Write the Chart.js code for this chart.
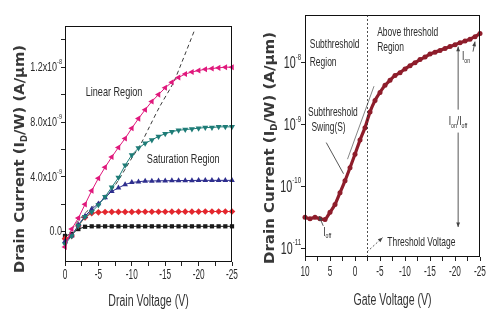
<!DOCTYPE html>
<html>
<head>
<meta charset="utf-8">
<script src="https://cdn.jsdelivr.net/npm/chart.js@4.4.1/dist/chart.umd.min.js"></script>
<style>
    html, body { margin: 0; padding: 0; background: #fff; }
    #wrap { position: relative; width: 492px; height: 321px; }
    #c1 { position: absolute; left: 0; top: 0; }
    #c2 { position: absolute; left: 250px; top: 0; }
</style>
</head>
<body>
<div id="wrap">
    <canvas id="c1" width="250" height="321"></canvas>
    <canvas id="c2" width="242" height="321"></canvas>
</div>
<script>
// ─── Left panel: output curves ───
const drainV = [0, -1, -2, -3, -4, -5, -6, -7, -8, -9, -10, -11, -12, -13, -14, -15, -16, -17, -18, -19, -20, -21, -22, -23, -24, -25];
const idPink  = [-1.1e-9, 0.2e-9, 1.0e-9, 2.0e-9, 3.0e-9, 3.9e-9, 4.7e-9, 5.45e-9, 6.15e-9, 6.8e-9, 7.55e-9, 8.25e-9, 8.9e-9, 9.5e-9, 10.0e-9, 10.5e-9, 10.9e-9, 11.25e-9, 11.5e-9, 11.65e-9, 11.75e-9, 11.85e-9, 11.9e-9, 11.95e-9, 12.0e-9, 12.0e-9];
const idTeal  = [-0.9e-9, -0.3e-9, 0.45e-9, 1.1e-9, 1.45e-9, 1.95e-9, 2.55e-9, 3.25e-9, 3.95e-9, 4.85e-9, 5.6e-9, 6.1e-9, 6.45e-9, 6.7e-9, 6.95e-9, 7.15e-9, 7.3e-9, 7.4e-9, 7.45e-9, 7.5e-9, 7.55e-9, 7.6e-9, 7.6e-9, 7.65e-9, 7.65e-9, 7.65e-9];
const idNavy  = [-0.7e-9, -0.3e-9, 0.5e-9, 1.15e-9, 1.65e-9, 2.05e-9, 2.5e-9, 2.95e-9, 3.2e-9, 3.45e-9, 3.6e-9, 3.65e-9, 3.7e-9, 3.7e-9, 3.72e-9, 3.72e-9, 3.73e-9, 3.73e-9, 3.74e-9, 3.74e-9, 3.75e-9, 3.75e-9, 3.75e-9, 3.75e-9, 3.75e-9, 3.75e-9];
const idRed   = [-0.5e-9, -0.3e-9, 0.45e-9, 1.05e-9, 1.35e-9, 1.42e-9, 1.44e-9, 1.45e-9, 1.45e-9, 1.45e-9, 1.45e-9, 1.46e-9, 1.46e-9, 1.46e-9, 1.46e-9, 1.46e-9, 1.47e-9, 1.47e-9, 1.47e-9, 1.47e-9, 1.47e-9, 1.48e-9, 1.48e-9, 1.48e-9, 1.48e-9, 1.48e-9];
const idBlack = [-0.3e-9, -0.15e-9, 0.2e-9, 0.37e-9, 0.4e-9, 0.4e-9, 0.4e-9, 0.4e-9, 0.4e-9, 0.4e-9, 0.4e-9, 0.4e-9, 0.4e-9, 0.4e-9, 0.4e-9, 0.4e-9, 0.4e-9, 0.4e-9, 0.4e-9, 0.4e-9, 0.4e-9, 0.4e-9, 0.4e-9, 0.4e-9, 0.4e-9, 0.4e-9];
// dashed saturation boundary
const boundaryV = [-1.0, -3.2, -6.6, -10.1, -11.4, -12.65, -14.16, -16.16, -17.42, -19.43];
const boundaryI = [0.2e-9, 1.45e-9, 2.8e-9, 5.45e-9, 6.45e-9, 7.66e-9, 9.11e-9, 10.81e-9, 12.27e-9, 14.74e-9];

const leftXTicks = [0, -5, -10, -15, -20, -25];
const leftXLabels = ['0', '-5', '-10', '-15', '-20', '-25'];
const leftYTicks = [0, 4e-9, 8e-9, 1.2e-8];
const leftYLabels = ['0.0', '4.0x10', '8.0x10', '1.2x10'];
const leftYExp = ['', '-9', '-9', '-8'];

// ─── Right panel: transfer curve ───
const gateV = [10, 9, 8, 7, 6, 5, 4, 3, 2, 1, 0, -1, -2, -3, -4, -5, -6, -7, -8, -9, -10, -11, -12, -13, -14, -15, -16, -17, -18, -19, -20, -21, -22, -23, -24, -25];
const idGate = [3.16e-11, 3.0e-11, 3.16e-11, 3.0e-11, 2.9e-11, 3.8e-11, 5.1e-11, 7.9e-11, 1.23e-10, 2.0e-10, 3.3e-10, 5.6e-10, 8.9e-10, 1.6e-9, 2.45e-9, 3.3e-9, 4.3e-9, 5.2e-9, 6.2e-9, 6.9e-9, 7.9e-9, 8.9e-9, 1.0e-8, 1.12e-8, 1.23e-8, 1.38e-8, 1.48e-8, 1.58e-8, 1.7e-8, 1.82e-8, 1.95e-8, 2.09e-8, 2.24e-8, 2.4e-8, 2.63e-8, 2.95e-8];
// subthreshold swing tangent
const tangentV = [1.5, -3.8];
const tangentI = [2.75e-10, 4.17e-9];
const thresholdV = -2.4;

const rightXTicks = [10, 5, 0, -5, -10, -15, -20, -25];
const rightXLabels = ['10', '5', '0', '-5', '-10', '-15', '-20', '-25'];
const rightYTicks = [1e-11, 1e-10, 1e-9, 1e-8];
const rightYExp = ['-11', '-10', '-9', '-8'];

// annotation texts (placed in data units)
const leftNotes = [
    { parts: [['Linear Region']], x: -3.1, y: 10.16e-9 },
    { parts: [['Saturation Region']], x: -12.25, y: 5.31e-9 }
];
const rightNotes = [
    { parts: [['Subthreshold']], x: 9.05, y: 1.95e-8 },
    { parts: [['Region']], x: 9.05, y: 1.0e-8 },
    { parts: [['Above threshold']], x: -4.43, y: 3.09e-8 },
    { parts: [['Region']], x: -4.43, y: 1.74e-8 },
    { parts: [['Subthreshold']], x: 9.4, y: 1.55e-9 },
    { parts: [['Swing(S)']], x: 8.72, y: 9.1e-10 },
    { parts: [['I'], ['on', 'sub']], x: -21.4, y: 1.26e-8 },
    { parts: [['I'], ['on', 'sub'], ['/I'], ['off', 'sub']], x: -18.74, y: 1.12e-9 },
    { parts: [['I'], ['off', 'sub']], x: 6.36, y: 1.82e-11 },
    { parts: [['Threshold Voltage']], x: -6.46, y: 1.23e-11 }
];
const rightArrows = [
    { from: [5.75, 5.1e-10], to: [2.3, 1.6e-10], head: false },
    { from: [6.36, 2.3e-11], to: [7.17, 3.3e-11], head: true },
    { from: [-2.4, 8.7e-12], to: [-5.5, 1.48e-11], head: true, dash: [2, 2] },
    { from: [-23.6, 1.51e-8], to: [-24.0, 2.19e-8], head: true },
    { from: [-20.63, 1.74e-9], to: [-20.63, 1.82e-8], head: true },
    { from: [-20.63, 7.4e-10], to: [-20.63, 2.2e-11], head: true }
];

const FONT = "'Liberation Sans', Arial, sans-serif";
const INK = '#2b2b2b';

// ─── text helper: runs of normal / sub / sup text, squeezed horizontally ───
function drawRich(ctx, parts, x, y, o) {
    const size = o.size;
    const fam = o.family || FONT;
    const weight = o.weight || 'normal';
    const segs = parts.map(([t, k]) => {
        const fs = k ? Math.round(size * (o.small || 0.62)) : size;
        ctx.font = `${weight} ${fs}px ${fam}`;
        return { t, k, fs, w: ctx.measureText(t).width };
    });
    const total = segs.reduce((s, g) => s + g.w, 0);
    const sx = o.len ? o.len / total : (o.sx || 1);
    let cx = o.align === 'right' ? -total : o.align === 'center' ? -total / 2 : 0;
    ctx.save();
    ctx.translate(x, y);
    if (o.rotate) ctx.rotate(o.rotate);
    ctx.scale(sx, 1);
    ctx.fillStyle = o.color || INK;
    ctx.textAlign = 'left';
    ctx.textBaseline = 'middle';
    segs.forEach(g => {
        ctx.font = `${weight} ${g.fs}px ${fam}`;
        const dy = g.k === 'sub' ? size * 0.32 : g.k === 'sup' ? -size * 0.4 : 0;
        ctx.fillText(g.t, cx, dy);
        cx += g.w;
    });
    ctx.restore();
}

function drawArrow(ctx, x1, y1, x2, y2, head, dash) {
    ctx.save();
    ctx.strokeStyle = '#444';
    ctx.fillStyle = '#444';
    ctx.lineWidth = 0.9;
    ctx.setLineDash(dash || []);
    ctx.beginPath();
    ctx.moveTo(x1, y1);
    ctx.lineTo(x2, y2);
    ctx.stroke();
    if (head) {
        const ang = Math.atan2(y2 - y1, x2 - x1);
        ctx.setLineDash([]);
        ctx.beginPath();
        ctx.moveTo(x2, y2);
        ctx.lineTo(x2 - 5 * Math.cos(ang - 0.4), y2 - 5 * Math.sin(ang - 0.4));
        ctx.lineTo(x2 - 5 * Math.cos(ang + 0.4), y2 - 5 * Math.sin(ang + 0.4));
        ctx.closePath();
        ctx.fill();
    }
    ctx.restore();
}

function drawFrame(ctx, a) {
    ctx.save();
    ctx.strokeStyle = '#111';
    ctx.lineWidth = 1;
    ctx.strokeRect(Math.round(a.left) + 0.5, Math.round(a.top) + 0.5,
        Math.round(a.right - a.left) - 1, Math.round(a.bottom - a.top) - 1);
    ctx.restore();
}

function yTitle(ctx, cx, cy, len) {
    drawRich(ctx, [['Drain Current (I'], ['D', 'sub'], ['/W) (A/µm)']], cx, cy,
        { size: 14, family: "'DejaVu Sans', sans-serif", weight: 'bold', align: 'center',
          rotate: -Math.PI / 2, len: len, small: 0.6, color: '#383838' });
}

const pts = (xs, ys) => xs.map((x, i) => ({ x, y: ys[i] }));

const baseOpts = {
    responsive: false,
    animation: false,
    events: [],
    plugins: { legend: { display: false }, tooltip: { enabled: false } }
};

const axisGrid = { display: true, drawOnChartArea: false, drawTicks: true, tickLength: 4, color: '#222', lineWidth: 1 };

function markerSet(data, color, style, rot, r) {
    return {
        data: pts(drainV, data),
        borderColor: color,
        backgroundColor: color,
        borderWidth: 1,
        pointStyle: style,
        pointRotation: rot,
        pointRadius: r,
        pointBorderWidth: 0,
        tension: 0,
        clip: false
    };
}

// ─── Left chart ───
new Chart(document.getElementById('c1'), {
    type: 'line',
    data: {
        datasets: [
            markerSet(idPink, '#E0187C', 'triangle', -90, 3.5),
            markerSet(idTeal, '#1E7C77', 'triangle', 180, 3.5),
            markerSet(idNavy, '#2E2E8E', 'triangle', 0, 3.3),
            markerSet(idRed, '#E3262D', 'rectRot', 0, 3.3),
            markerSet(idBlack, '#1A1A1A', 'rect', 0, 3.0),
            {
                data: pts(boundaryV, boundaryI),
                borderColor: '#3a3a3a',
                borderWidth: 1,
                borderDash: [4, 3],
                pointRadius: 0,
                tension: 0.3
            }
        ]
    },
    options: {
        ...baseOpts,
        layout: { padding: { left: 0, right: 18, top: 26, bottom: 0 }, autoPadding: false },
        scales: {
            x: {
                type: 'linear', min: -25, max: 0, reverse: true,
                grid: axisGrid, border: { display: false },
                ticks: { display: false, autoSkip: false },
                afterBuildTicks: s => { s.ticks = [0, -2.5, -5, -7.5, -10, -12.5, -15, -17.5, -20, -22.5, -25].map(v => ({ value: v })); },
                afterFit: s => { s.height = 59; }
            },
            y: {
                type: 'linear', min: -2.2e-9, max: 1.5e-8,
                grid: axisGrid, border: { display: false },
                ticks: { display: false, autoSkip: false },
                afterBuildTicks: s => { s.ticks = [0, 2e-9, 4e-9, 6e-9, 8e-9, 1e-8, 1.2e-8, 1.4e-8].map(v => ({ value: v })); },
                afterFit: s => { s.width = 65; }
            }
        }
    },
    plugins: [{
        id: 'leftDecor',
        afterDraw(chart) {
            const ctx = chart.ctx, a = chart.chartArea;
            const xs = chart.scales.x, ys = chart.scales.y;
            drawFrame(ctx, a);
            leftXTicks.forEach((v, i) => {
                drawRich(ctx, [[leftXLabels[i]]], xs.getPixelForValue(v), a.bottom + 13,
                    { size: 15, sx: 0.55, align: 'center' });
            });
            leftYTicks.forEach((v, i) => {
                const parts = leftYExp[i] ? [[leftYLabels[i]], [leftYExp[i], 'sup']] : [[leftYLabels[i]]];
                drawRich(ctx, parts, a.left - 3, ys.getPixelForValue(v),
                    { size: 13, sx: 0.69, align: 'right', small: 0.6 });
            });
            drawRich(ctx, [['Drain Voltage (V)']], (a.left + a.right) / 2, 302,
                { size: 16, sx: 0.66, align: 'center', color: '#333' });
            yTitle(ctx, 20, (a.top + a.bottom) / 2 + 15, 228);
            leftNotes.forEach(n => {
                drawRich(ctx, n.parts, xs.getPixelForValue(n.x), ys.getPixelForValue(n.y),
                    { size: 13, sx: 0.7 });
            });
        }
    }]
});

// ─── Right chart ───
new Chart(document.getElementById('c2'), {
    type: 'line',
    data: {
        datasets: [
            {
                data: pts(gateV, idGate),
                borderColor: '#8E1D2B',
                backgroundColor: '#8E1D2B',
                borderWidth: 3.2,
                pointRadius: 2.5,
                pointBorderWidth: 0,
                tension: 0.2,
                clip: false
            },
            {
                data: pts(tangentV, tangentI),
                borderColor: '#777',
                borderWidth: 0.9,
                pointRadius: 0
            }
        ]
    },
    options: {
        ...baseOpts,
        layout: { padding: { left: 0, right: 12, top: 15, bottom: 0 }, autoPadding: false },
        scales: {
            x: {
                type: 'linear', min: -25, max: 10, reverse: true,
                grid: axisGrid, border: { display: false },
                ticks: { display: false, autoSkip: false },
                afterBuildTicks: s => { s.ticks = [10, 7.5, 5, 2.5, 0, -2.5, -5, -7.5, -10, -12.5, -15, -17.5, -20, -22.5, -25].map(v => ({ value: v })); },
                afterFit: s => { s.height = 64; }
            },
            y: {
                type: 'logarithmic', min: 7.2e-12, max: 5.9e-8,
                grid: axisGrid, border: { display: false },
                ticks: { display: false, autoSkip: false },
                afterBuildTicks: s => { s.ticks = rightYTicks.map(v => ({ value: v })); },
                afterFit: s => { s.width = 55; }
            }
        }
    },
    plugins: [{
        id: 'rightDecor',
        afterDraw(chart) {
            const ctx = chart.ctx, a = chart.chartArea;
            const xs = chart.scales.x, ys = chart.scales.y;
            drawFrame(ctx, a);
            // threshold voltage marker
            const tx = Math.round(xs.getPixelForValue(thresholdV)) + 0.5;
            ctx.save();
            ctx.strokeStyle = '#222';
            ctx.lineWidth = 0.8;
            ctx.setLineDash([2, 2]);
            ctx.beginPath();
            ctx.moveTo(tx, a.top);
            ctx.lineTo(tx, a.bottom);
            ctx.stroke();
            ctx.restore();

            rightXTicks.forEach((v, i) => {
                drawRich(ctx, [[rightXLabels[i]]], xs.getPixelForValue(v), a.bottom + 15,
                    { size: 15, sx: 0.55, align: 'center' });
            });
            rightYTicks.forEach((v, i) => {
                drawRich(ctx, [['10'], [rightYExp[i], 'sup']], a.left - 4, ys.getPixelForValue(v) + 1,
                    { size: 16, sx: 0.67, align: 'right', small: 0.56 });
            });
            drawRich(ctx, [['Gate Voltage (V)']], (a.left + a.right) / 2, 301,
                { size: 16, sx: 0.66, align: 'center', color: '#333' });
            yTitle(ctx, 20, (a.top + a.bottom) / 2 + 12, 232);

            rightArrows.forEach(r => {
                drawArrow(ctx, xs.getPixelForValue(r.from[0]), ys.getPixelForValue(r.from[1]),
                    xs.getPixelForValue(r.to[0]), ys.getPixelForValue(r.to[1]), r.head, r.dash);
            });
            rightNotes.forEach(n => {
                drawRich(ctx, n.parts, xs.getPixelForValue(n.x), ys.getPixelForValue(n.y),
                    { size: 13, sx: 0.65 });
            });
        }
    }]
});
</script>
</body>
</html>
